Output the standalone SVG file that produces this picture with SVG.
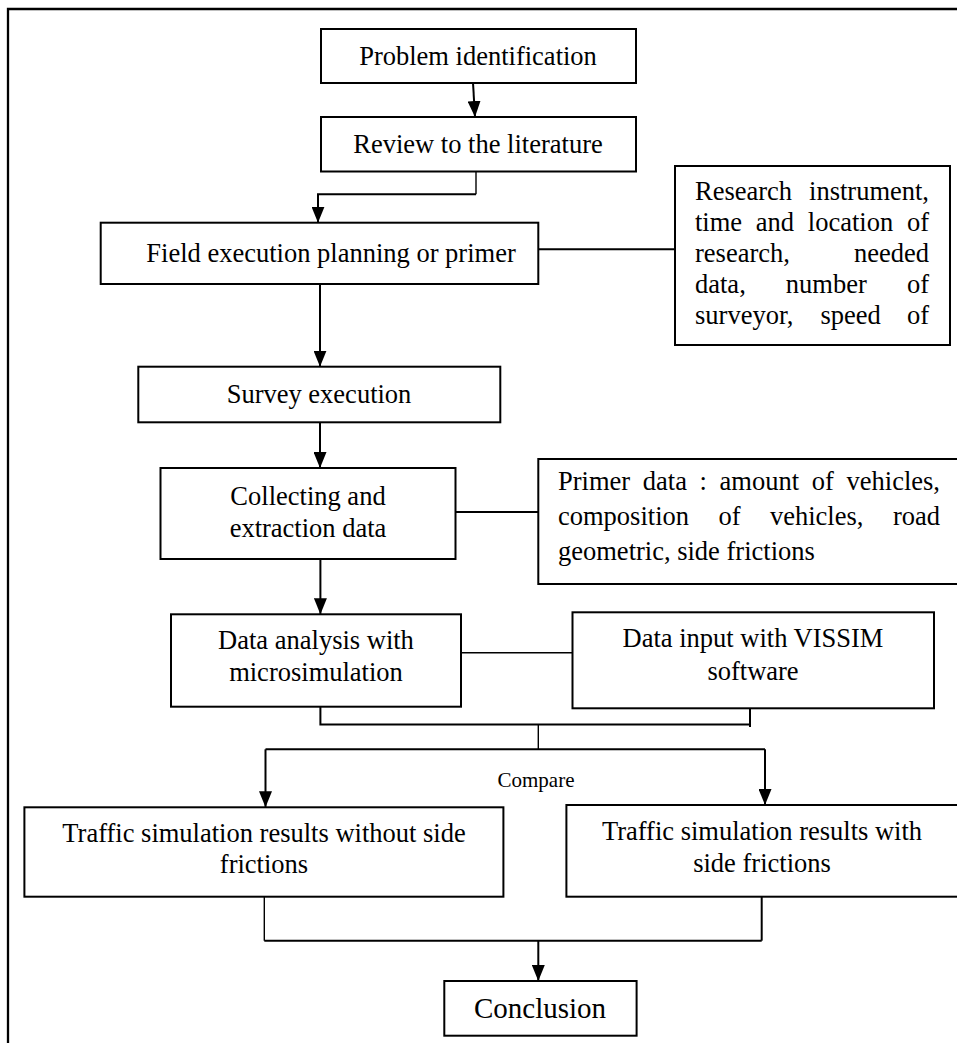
<svg xmlns="http://www.w3.org/2000/svg" width="957" height="1043" viewBox="0 0 957 1043">
<defs>
<marker id="ah" markerUnits="userSpaceOnUse" markerWidth="16" markerHeight="13" refX="16" refY="6.5" orient="auto">
<path d="M0,0 L16,6.5 L0,13 z" fill="#000"/>
</marker>
<style>
.box{fill:#fff;stroke:#000;stroke-width:2}
.t{font-family:"Liberation Serif","Times New Roman",serif;font-size:26.5px;fill:#000}
.m{text-anchor:middle}
.e{text-anchor:end}
.c{fill:none;stroke:#000;stroke-width:2}
.thin{stroke-width:1.4}
.arr{marker-end:url(#ah)}
</style>
</defs>
<rect width="957" height="1043" fill="#fff"/>
<path d="M8,1045 V9 H960" fill="none" stroke="#000" stroke-width="2.3"/>

<g id="connectors">
<path class="c arr" d="M473,82.7 L475,117"/>
<path class="c thin" d="M476,171.5 V194.3"/>
<path class="c arr" d="M476,194.3 H318 V222.7"/>
<path class="c arr" d="M320,284 V366.7"/>
<path class="c arr" d="M320,422.3 V468"/>
<path class="c" d="M538.3,249.3 H675"/>
<path class="c" d="M455.5,512 H538.3"/>
<path class="c arr" d="M320.4,559 V614.3"/>
<path class="c thin" d="M461,652.7 H572.5"/>
<path class="c" d="M320.4,706.7 V724.5 H750"/>
<path class="c" d="M750,708.3 V727"/>
<path class="c thin" d="M538.3,724.5 V749.3"/>
<path class="c" d="M265.5,749.3 H765"/>
<path class="c arr" d="M265.5,749.3 V807.3"/>
<path class="c arr" d="M765,749.3 V805"/>
<path class="c thin" d="M264.3,896.7 V940.7"/>
<path class="c" d="M264.3,940.7 H761.7"/>
<path class="c" d="M761.7,896.7 V940.7"/>
<path class="c arr" d="M538.3,940.7 V981"/>
</g>

<g id="problem">
<rect class="box" x="321" y="29" width="315" height="54"/>
<text class="t m" x="478" y="65">Problem identification</text>
</g>
<g id="review">
<rect class="box" x="321" y="117" width="315" height="54.5"/>
<text class="t m" x="478" y="153">Review to the literature</text>
</g>
<g id="field">
<rect class="box" x="100.7" y="222.7" width="437.6" height="61.3"/>
<text class="t m" x="331" y="262">Field execution planning or primer</text>
</g>
<g id="research">
<rect class="box" x="675" y="166" width="275" height="179"/>
<text class="t" y="200"><tspan x="695">Research</tspan><tspan class="e" x="929" text-anchor="end">instrument,</tspan></text>
<text class="t" y="231"><tspan x="695">time</tspan><tspan x="755.8">and</tspan><tspan x="807.8">location</tspan><tspan x="929" text-anchor="end">of</tspan></text>
<text class="t" y="262"><tspan x="695">research,</tspan><tspan x="929" text-anchor="end">needed</tspan></text>
<text class="t" y="293"><tspan x="695">data,</tspan><tspan x="785.8">number</tspan><tspan x="929" text-anchor="end">of</tspan></text>
<text class="t" y="324"><tspan x="695">surveyor,</tspan><tspan x="820.4">speed</tspan><tspan x="929" text-anchor="end">of</tspan></text>
</g>
<g id="survey">
<rect class="box" x="138.3" y="366.7" width="362" height="55.6"/>
<text class="t m" x="319" y="403">Survey execution</text>
</g>
<g id="collecting">
<rect class="box" x="160.5" y="468" width="295" height="91"/>
<text class="t m" x="308" y="505">Collecting and</text>
<text class="t m" x="308" y="537">extraction data</text>
</g>
<g id="primer">
<rect class="box" x="538.3" y="459" width="420" height="125"/>
<text class="t" y="490"><tspan x="558">Primer</tspan><tspan x="642.8">data</tspan><tspan x="699.5">:</tspan><tspan x="719.6">amount</tspan><tspan x="811.8">of</tspan><tspan x="940" text-anchor="end">vehicles,</tspan></text>
<text class="t" y="525"><tspan x="558">composition</tspan><tspan x="718.4">of</tspan><tspan x="769.9">vehicles,</tspan><tspan x="940" text-anchor="end">road</tspan></text>
<text class="t" x="558" y="560">geometric, side frictions</text>
</g>
<g id="analysis">
<rect class="box" x="171" y="614.3" width="290" height="92.4"/>
<text class="t m" x="316" y="649">Data analysis with</text>
<text class="t m" x="316" y="681">microsimulation</text>
</g>
<g id="input">
<rect class="box" x="572.5" y="612.3" width="361.5" height="96"/>
<text class="t m" x="753" y="647">Data input with VISSIM</text>
<text class="t m" x="753" y="680">software</text>
</g>
<g id="compare">
<text class="t m" x="536" y="787" style="font-size:21px">Compare</text>
</g>
<g id="without">
<rect class="box" x="24.4" y="807.3" width="479" height="89.4"/>
<text class="t m" x="264" y="842">Traffic simulation results without side</text>
<text class="t m" x="264" y="873">frictions</text>
</g>
<g id="with">
<rect class="box" x="566.4" y="805" width="392" height="91.7"/>
<text class="t m" x="762" y="840">Traffic simulation results with</text>
<text class="t m" x="762" y="872">side frictions</text>
</g>
<g id="conclusion">
<rect class="box" x="444.3" y="981" width="192.3" height="54.7"/>
<text class="t m" x="540" y="1018" style="font-size:29px">Conclusion</text>
</g>
</svg>
